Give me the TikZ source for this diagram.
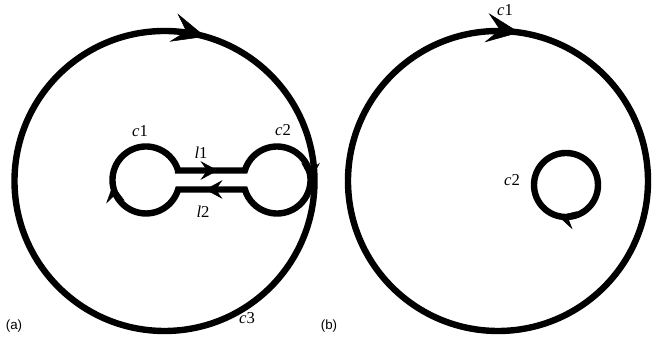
\documentclass[tikz,border=0pt]{standalone}
\usepackage{fontspec}
\setmainfont{Liberation Serif}
\newfontfamily\panelfont{Liberation Sans}
\usetikzlibrary{arrows.meta,decorations.markings}

\begin{document}
\begin{tikzpicture}[x=0.75pt, y=0.75pt,
  bigtip/.tip={Stealth[length=25pt, width=22pt, inset=10pt, line width=0.4pt]},
  smalltip/.tip={Stealth[length=13pt, width=14pt, inset=5pt, line width=0.4pt]},
  curve/.style={line width=4.8pt},
  every node/.style={inner sep=0pt, font=\fontsize{12.5}{14}\selectfont},
  panel/.style={font=\panelfont\fontsize{10}{12}\selectfont}]
\useasboundingbox (0,0) rectangle (665,345);
\coordinate (oa) at (164.5,164);
\coordinate (ob) at (498,164);
\coordinate (sb) at (566,160);
% (a) outer contour c3 and the two joined circles
\draw[curve, postaction={decorate, decoration={markings,
  mark=at position 0.206 with {\arrowreversed{bigtip}}}}] (oa) circle (150);
\draw[curve, postaction={decorate, decoration={markings,
  mark=at position 0.077 with {\arrow{smalltip}},
  mark=at position 0.315 with {\arrow{smalltip}},
  mark=at position 0.577 with {\arrow{smalltip}},
  mark=at position 0.805 with {\arrow{smalltip}}}}]
  (178.1,174.5) -- (244.9,174.5) arc[start angle=163.5, end angle=-163.5, radius=33.5]
  -- (178.1,155.5) arc[start angle=-16.5, end angle=-343.5, radius=33.5] -- cycle;
% (b)
\draw[curve, postaction={decorate, decoration={markings,
  mark=at position 0.227 with {\arrowreversed{bigtip}}}}] (ob) circle (150);
\draw[curve, postaction={decorate, decoration={markings,
  mark=at position 0.71 with {\arrowreversed{smalltip}}}}] (sb) circle (32);
% labels
\node (lc1) at (140,214) {\textit{c}1};
\node (ll1) at (201,192) {\textit{l}1};
\node (lc2) at (283,215) {\textit{c}2};
\node (ll2) at (203,133) {\textit{l}2};
\node (lc3) at (247,27) {\textit{c}3};
\node[panel] (pa) at (14,19) {(a)};
\node (rc1) at (505,335) {\textit{c}1};
\node (rc2) at (512,165) {\textit{c}2};
\node[panel] (pb) at (329,19) {(b)};
\end{tikzpicture}
\end{document}
